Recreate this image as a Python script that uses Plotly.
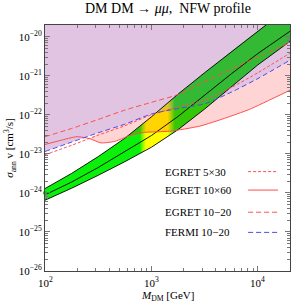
import numpy as np
import plotly.graph_objects as go

# ---------------- data ----------------
M_grid = [100, 178, 316, 562, 1000, 1778, 3162, 5623, 10000, 20000]

band_upper = [1.29e-24, 3.16e-24, 8.5e-24, 2.51e-23, 8.9e-23, 3.39e-22, 1.20e-21, 4.17e-21, 1.41e-20, 6.0e-20]
band_center = [8.9e-25, 1.9e-24, 4.47e-24, 1.12e-23, 2.95e-23, 9.1e-23, 3.24e-22, 1.12e-21, 3.72e-21, 1.38e-20]
band_lower = [6.5e-25, 1.32e-24, 2.82e-24, 6.3e-24, 1.48e-23, 4.17e-23, 1.41e-22, 5.25e-22, 1.91e-21, 7.6e-21]

fermi_10_20 = [1.15e-23, 2.0e-23, 3.47e-23, 5.75e-23, 1.05e-22, 1.45e-22, 1.91e-22, 3.8e-22, 8.5e-22, 2.51e-21]
egret_5x30 = [9.5e-24, 1.66e-23, 3.02e-23, 5.25e-23, 1.0e-22, 1.58e-22, 2.4e-22, 5.0e-22, 1.2e-21, 3.8e-21]
egret_10_20 = [2.75e-23, 4.47e-23, 7.6e-23, 1.32e-22, 2.09e-22, 3.31e-22, 7.1e-22, 1.48e-21, 3.02e-21, 7.1e-21]

M_egret_10x60 = [100, 138, 200, 263, 335, 453, 627, 865, 1480, 2840, 4860, 8320, 20000]
egret_10x60 = [1.74e-23, 2.19e-23, 2.75e-23, 2.45e-23, 1.91e-23, 2.09e-23, 2.95e-23, 3.55e-23,
               3.8e-23, 5.13e-23, 8.13e-23, 1.38e-22, 4.27e-22]

best_fit_M = [100]
best_fit_sigma = [1.0e-24]

x_tick_vals = [100, 1000, 10000]
x_tick_text = ["10<sup>2</sup>", "10<sup>3</sup>", "10<sup>4</sup>"]
y_tick_vals = [1e-26, 1e-25, 1e-24, 1e-23, 1e-22, 1e-21, 1e-20]
y_tick_text = ["10<sup>\u221226</sup>", "10<sup>\u221225</sup>", "10<sup>\u221224</sup>",
               "10<sup>\u221223</sup>", "10<sup>\u221222</sup>", "10<sup>\u221221</sup>",
               "10<sup>\u221220</sup>"]

legend_labels = ["EGRET 5\u00d730", "EGRET 10\u00d760", "EGRET 10\u221220", "FERMI 10\u221220"]

# ---------------- styles ----------------
FONT = "Liberation Serif"
RED = "#ff4d4d"
BLUE = "#4a4af0"
TOP = 1e-19  # fill extent above the plot
GREEN = "rgb(10,240,10)"
YELLOW = "rgb(255,255,0)"

fig = go.Figure()

# band (fit region), coloured along M
fig.add_trace(go.Scatter(
    x=M_grid + M_grid[::-1], y=band_upper + band_lower[::-1],
    fill="toself", mode="none", hoverinfo="skip", showlegend=False,
    fillcolor=GREEN,
    fillgradient=dict(type="horizontal", colorscale=[
        [0.0, GREEN], [0.387, GREEN], [0.400, "rgb(150,248,0)"],
        [0.413, YELLOW], [0.500, YELLOW], [0.515, "rgb(150,248,0)"],
        [0.530, GREEN], [1.0, GREEN]]),
))

# pink region: above EGRET 10x60 and below FERMI
start = 3
pink_x = M_egret_10x60[start:] + [m for m in M_grid[::-1] if m >= 316]
pink_y = egret_10x60[start:] + [s for m, s in zip(M_grid[::-1], fermi_10_20[::-1]) if m >= 316]
fig.add_trace(go.Scatter(x=pink_x, y=pink_y, fill="toself", mode="none",
                         fillcolor="rgba(255,0,0,0.17)", hoverinfo="skip", showlegend=False))

# purple region above FERMI
fig.add_trace(go.Scatter(x=M_grid + [M_grid[-1], M_grid[0]], y=fermi_10_20 + [TOP, TOP],
                         fill="toself", mode="none", fillcolor="rgba(150,50,150,0.29)",
                         hoverinfo="skip", showlegend=False))

# band edges
for ys in (band_upper, band_center, band_lower):
    fig.add_trace(go.Scatter(x=M_grid, y=ys, mode="lines", line=dict(color="black", width=0.9),
                             hoverinfo="skip", showlegend=False))

# constraint lines
fig.add_trace(go.Scatter(x=M_grid, y=egret_5x30, mode="lines", showlegend=False,
                         line=dict(color=RED, width=1, dash="3px,2px", shape="spline", smoothing=0.6)))
fig.add_trace(go.Scatter(x=M_egret_10x60, y=egret_10x60, mode="lines", showlegend=False,
                         line=dict(color=RED, width=1, shape="spline", smoothing=0.6)))
fig.add_trace(go.Scatter(x=M_grid, y=egret_10_20, mode="lines", showlegend=False,
                         line=dict(color=RED, width=1, dash="5px,3px", shape="spline", smoothing=0.6)))
fig.add_trace(go.Scatter(x=M_grid, y=fermi_10_20, mode="lines", showlegend=False,
                         line=dict(color=BLUE, width=1, dash="5px,3px", shape="spline", smoothing=0.6)))

fig.add_trace(go.Scatter(x=best_fit_M, y=best_fit_sigma, mode="markers", showlegend=False,
                         marker=dict(color="rgb(0,200,0)", size=4), cliponaxis=False))

# manual legend (text then line sample, Mathematica style)
leg_y = [0.404, 0.329, 0.239, 0.157]
leg_dash = ["3px,2px", "solid", "5px,3px", "5px,3px"]
leg_col = [RED, RED, RED, BLUE]
for lab, yy, d, c in zip(legend_labels, leg_y, leg_dash, leg_col):
    fig.add_annotation(x=0.482, y=yy, xref="paper", yref="paper", text=lab, showarrow=False,
                       xanchor="left", yanchor="middle", font=dict(family=FONT, size=11, color="black"))
    fig.add_shape(type="line", xref="paper", yref="paper", x0=0.829, x1=0.951, y0=yy, y1=yy,
                  line=dict(color=c, width=1, dash=d))

# x tick labels, x title and title as annotations
for v, t in zip(x_tick_vals, x_tick_text):
    fig.add_annotation(x=np.log10(v), y=-0.046, xref="x", yref="paper", text=t, showarrow=False,
                       xanchor="center", yanchor="middle", font=dict(family=FONT, size=11, color="black"))
fig.add_annotation(x=0.5, y=-0.10, xref="paper", yref="paper", text="<i>M</i><sub>DM</sub> [GeV]",
                   showarrow=False, xanchor="center", yanchor="middle",
                   font=dict(family=FONT, size=11, color="black"))
fig.add_annotation(x=0.5, y=1.066, xref="paper", yref="paper",
                   text="DM DM \u2192 <i>\u03bc\u03bc</i>,  NFW profile", showarrow=False,
                   xanchor="center", yanchor="middle", font=dict(family=FONT, size=14, color="black"))

minor_x = [200, 300, 400, 500, 600, 700, 800, 900, 2000, 3000, 4000, 5000, 6000, 7000, 8000, 9000, 20000]
minor_y = [k * 10.0 ** e for e in range(-26, -19) for k in range(2, 10)]

fig.update_layout(
    width=294, height=304,
    margin=dict(l=45, r=4, t=25, b=33),
    paper_bgcolor="white", plot_bgcolor="white",
    font=dict(family=FONT, size=11, color="black"),
    xaxis=dict(type="log", range=[2, np.log10(20000)], tickvals=x_tick_vals, showticklabels=False,
               ticks="inside", ticklen=5, tickcolor="#777", showline=True, linecolor="#444", linewidth=1,
               mirror="allticks", showgrid=False, zeroline=False,
               minor=dict(tickvals=minor_x, ticks="inside", ticklen=3, tickcolor="#777", showgrid=False)),
    yaxis=dict(type="log", range=[-26, -19.7], tickvals=y_tick_vals, ticktext=y_tick_text,
               ticks="inside", ticklen=5, tickcolor="#777", showline=True, linecolor="#444", linewidth=1,
               mirror="allticks", showgrid=False, zeroline=False,
               minor=dict(tickvals=minor_y, ticks="inside", ticklen=3, tickcolor="#777", showgrid=False),
               title=dict(text="<i>\u03c3</i><sub>ann</sub> v [cm<sup>3</sup>/s]", standoff=2,
                          font=dict(size=11))),
)

fig.write_html("out.html", config={"displayModeBar": False},
               post_script="document.body.style.margin='0';")
